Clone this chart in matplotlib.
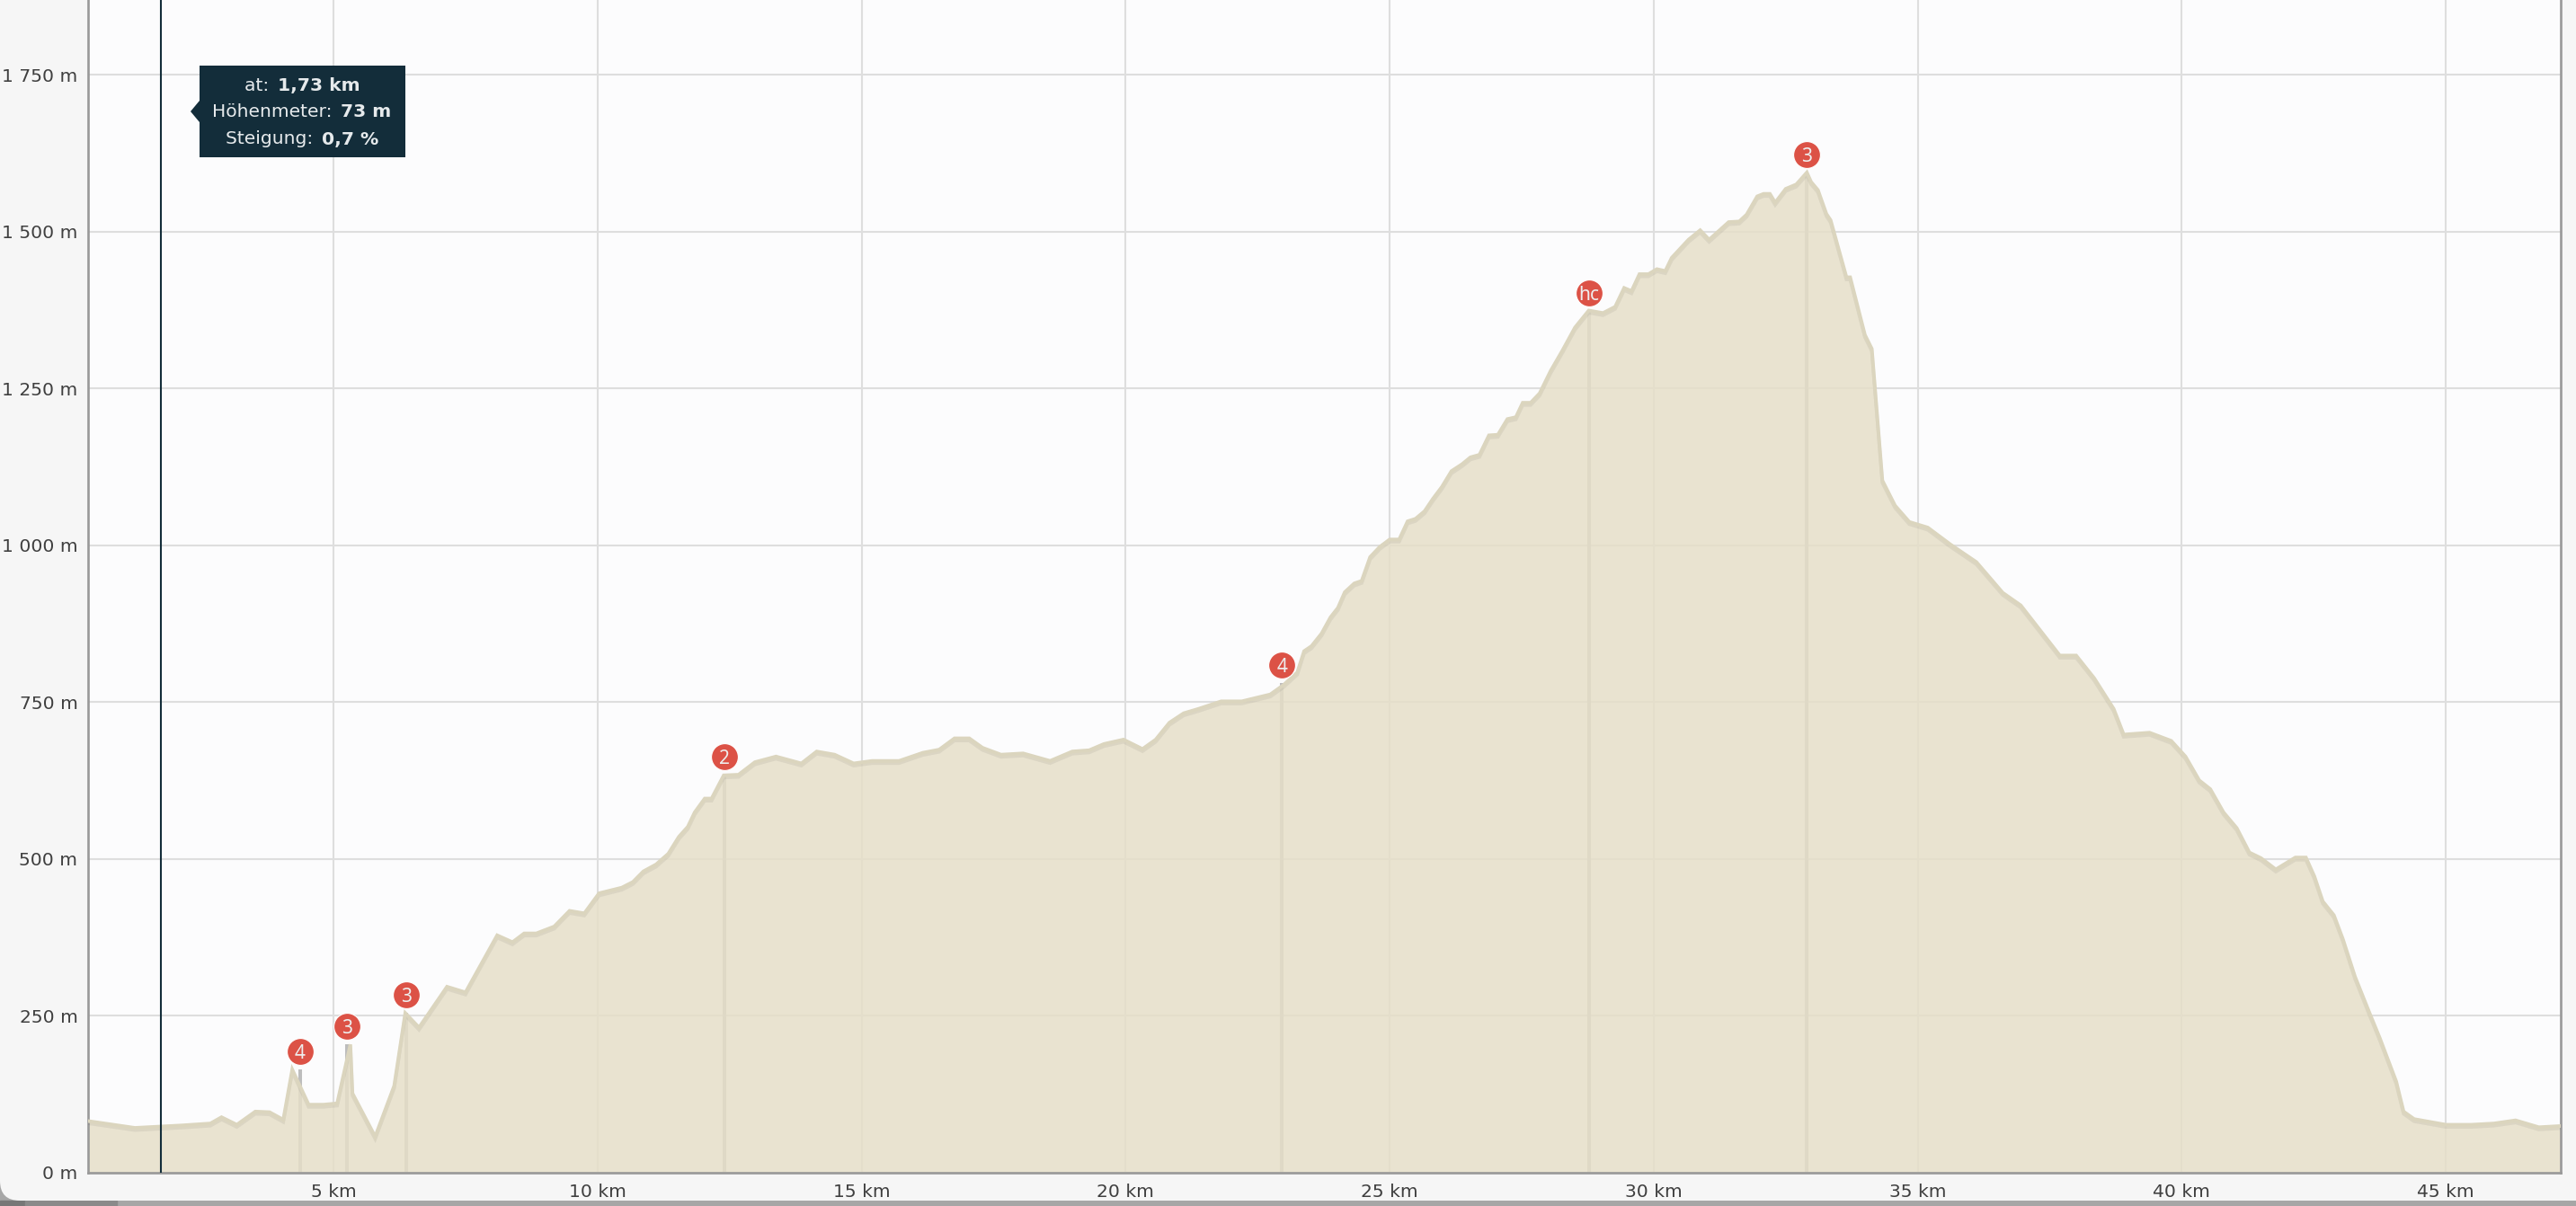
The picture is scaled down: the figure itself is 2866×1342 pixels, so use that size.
#!/usr/bin/env python3

import matplotlib

matplotlib.use("Agg")

import matplotlib.patheffects as pe
import matplotlib.pyplot as plt
from matplotlib.patches import FancyBboxPatch, Polygon, Rectangle
from matplotlib.transforms import ScaledTranslation

WIDTH, HEIGHT = 2866, 1342
DPI = 100

# elevation profile
distance_km = [
    0.34, 1.24, 2.14, 2.67, 2.88, 3.17, 3.52, 3.79, 4.05, 4.22, 4.53, 4.81, 5.07, 5.32, 5.36,
    5.79, 6.15, 6.36, 6.62, 7.15, 7.50, 8.10, 8.39, 8.61, 8.84, 9.18, 9.47, 9.75, 10.03, 10.46,
    10.67, 10.87, 11.11, 11.34, 11.54, 11.71, 11.84, 12.03, 12.16, 12.39, 12.67, 12.98, 13.38,
    13.86, 14.15, 14.49, 14.85, 15.20, 15.71, 16.16, 16.47, 16.76, 17.04, 17.29, 17.64, 18.06,
    18.57, 18.99, 19.31, 19.59, 19.96, 20.32, 20.57, 20.83, 21.10, 21.38, 21.81, 22.20, 22.74,
    22.99, 23.25, 23.38, 23.52, 23.71, 23.88, 24.02, 24.15, 24.33, 24.47, 24.63, 24.81, 25.00,
    25.18, 25.34, 25.49, 25.66, 25.82, 25.99, 26.17, 26.37, 26.53, 26.70, 26.88, 27.05, 27.23,
    27.39, 27.52, 27.67, 27.84, 28.05, 28.27, 28.51, 28.77, 29.04, 29.27, 29.44, 29.58, 29.73,
    29.90, 30.06, 30.22, 30.34, 30.66, 30.88, 31.05, 31.42, 31.62, 31.76, 31.96, 32.08, 32.20,
    32.30, 32.50, 32.70, 32.90, 32.98, 33.11, 33.27, 33.35, 33.65, 33.72, 34.00, 34.13, 34.33,
    34.57, 34.84, 35.19, 35.62, 36.11, 36.61, 36.95, 37.69, 38.00, 38.34, 38.71, 38.90, 39.39,
    39.80, 40.07, 40.33, 40.54, 40.79, 41.04, 41.28, 41.50, 41.78, 42.15, 42.35, 42.51, 42.67,
    42.88, 43.05, 43.28, 43.56, 43.75, 44.06, 44.20, 44.40, 45.00, 45.48, 45.91, 46.32, 46.76,
    47.18,
]
elevation_m = [
    82, 71, 75, 78, 88, 76, 97, 96, 84, 164, 108, 108, 110, 204, 126,
    57, 138, 254, 231, 296, 287, 378, 367, 381, 381, 392, 417, 413, 445, 454,
    463, 480, 491, 508, 535, 551, 574, 596, 596, 633, 634, 654, 663,
    652, 671, 666, 652, 656, 656, 669, 674, 692, 692, 677, 666, 668,
    656, 671, 673, 683, 690, 675, 690, 717, 732, 739, 751, 751, 762,
    777, 797, 831, 839, 859, 885, 900, 925, 939, 943, 981, 997, 1009,
    1009, 1038, 1042, 1054, 1074, 1093, 1118, 1129, 1140, 1144, 1175, 1176, 1201,
    1204, 1227, 1227, 1242, 1278, 1310, 1347, 1374, 1370, 1380, 1410, 1405, 1432,
    1432, 1440, 1437, 1458, 1487, 1502, 1487, 1515, 1516, 1527, 1556, 1560, 1560,
    1546, 1568, 1575, 1594, 1579, 1566, 1528, 1518, 1427, 1427, 1335, 1313, 1103,
    1063, 1037, 1028, 1001, 973, 924, 904, 824, 824, 788, 739, 698, 701,
    688, 663, 625, 611, 574, 549, 510, 501, 483, 502, 502, 472, 432,
    410, 372, 312, 253, 214, 145, 97, 85, 76, 76, 78, 83, 72,
    74,
]

climb_km = [4.37, 5.26, 6.38, 12.40, 22.96, 28.78, 32.90]
climb_top_m = [164, 204, 254, 634, 780, 1374, 1594]
climb_labels = ["4", "3", "3", "2", "4", "hc", "3"]

x_ticks_km = [5, 10, 15, 20, 25, 30, 35, 40, 45]
x_tick_labels = ["5 km", "10 km", "15 km", "20 km", "25 km", "30 km", "35 km", "40 km", "45 km"]
y_ticks_m = [0, 250, 500, 750, 1000, 1250, 1500, 1750]
y_tick_labels = ["0 m", "250 m", "500 m", "750 m", "1 000 m", "1 250 m", "1 500 m", "1 750 m"]

cursor_km = 1.73
tooltip_lines = [("at: ", "1,73 km"), ("Höhenmeter: ", "73 m"), ("Steigung: ", "0,7 %")]


def fx(px):
    return px / WIDTH


def fy(py):
    return 1 - py / HEIGHT


def draw_window(fig):
    fig.patch.set_facecolor("#a6a6a6")
    fig.add_artist(Rectangle((0, 0), fx(28), fy(1336), transform=fig.transFigure, color="#777777", zorder=-3))
    fig.add_artist(Rectangle((fx(28), 0), fx(102), fy(1336), transform=fig.transFigure, color="#8a8a8a", zorder=-3))
    panel = FancyBboxPatch(
        (0, 6), WIDTH + 60, HEIGHT + 60,
        boxstyle="round,pad=0,rounding_size=22",
        transform=None, facecolor="#f6f6f6", edgecolor="none", zorder=-2,
    )
    fig.add_artist(panel)


def draw_tooltip(fig):
    dark = "#132d3a"
    fig.add_artist(Rectangle(
        (fx(222), fy(175)), fx(229), fy(73) - fy(175),
        transform=fig.transFigure, facecolor=dark, edgecolor="none", zorder=5,
    ))
    fig.add_artist(Polygon(
        [(fx(212), fy(124)), (fx(222), fy(112)), (fx(222), fy(136))],
        transform=fig.transFigure, facecolor=dark, edgecolor="none", zorder=5,
    ))
    renderer = fig.canvas.get_renderer()
    for (label, value), py in zip(tooltip_lines, [93.5, 123, 153]):
        left = fig.text(0, fy(py), label, color="#e6eaec", fontsize=14.6, va="center_baseline", zorder=6)
        right = fig.text(0, fy(py), value, color="#e6eaec", fontsize=14.6, fontweight="bold",
                         va="center_baseline", zorder=6)
        w_left = left.get_window_extent(renderer).width + 3
        w_right = right.get_window_extent(renderer).width
        start = 336 - (w_left + w_right) / 2
        left.set_x(fx(start))
        right.set_x(fx(start + w_left))


def main():
    fig = plt.figure(figsize=(WIDTH / DPI, HEIGHT / DPI), dpi=DPI)
    draw_window(fig)

    ax = fig.add_axes([fx(97.5), fy(1304.6), fx(2848.7 - 97.5), fy(0) - fy(1304.6)])
    ax.set_facecolor("#fcfcfd")
    ax.set_xlim(0.345, 47.17)
    ax.set_ylim(0, 1869)

    ax.set_axisbelow(True)
    ax.grid(True, color="#dedede", linewidth=1.5)
    ax.set_xticks(x_ticks_km, x_tick_labels)
    ax.set_yticks(y_ticks_m, y_tick_labels)
    ax.tick_params(length=0, labelsize=14.6, labelcolor="#3f3f3f")
    ax.tick_params(axis="y", pad=8)
    ax.tick_params(axis="x", pad=9)

    for name, spine in ax.spines.items():
        spine.set_color("#999999")
        spine.set_linewidth(1.9)
    ax.spines["top"].set_visible(False)

    # stems sit under the translucent fill
    ax.vlines(climb_km, 0, climb_top_m, colors="#bdbdbd", linewidth=2.9, zorder=1.5)
    ax.fill_between(distance_km, elevation_m, 0, color="#e6dfc8", alpha=0.85, linewidth=0, zorder=2)
    ax.plot(
        distance_km, elevation_m, color="#dbd5be", linewidth=2.8, zorder=3, solid_joinstyle="miter",
        path_effects=[pe.SimpleLineShadow(offset=(0, -1.8), shadow_color="k", alpha=0.06), pe.Normal()],
    )

    ax.axvline(cursor_km, color="#132d3a", linewidth=1.5, zorder=4)

    badge_shift = ax.transData + ScaledTranslation(0, 20 / DPI, fig.dpi_scale_trans)
    ax.plot(
        climb_km, climb_top_m, linestyle="none", marker="o", markersize=21.5,
        markerfacecolor="#dc5246", markeredgecolor="white", markeredgewidth=0.8,
        transform=badge_shift, zorder=5,
    )
    for km, top, label in zip(climb_km, climb_top_m, climb_labels):
        ax.text(km, top, label, transform=badge_shift, color="#eeeeee", fontsize=15,
                family="Noto Sans", ha="center", va="center_baseline", zorder=6)

    draw_tooltip(fig)

    fig.savefig("out.png", dpi=DPI, facecolor=fig.get_facecolor())


if __name__ == "__main__":
    main()
